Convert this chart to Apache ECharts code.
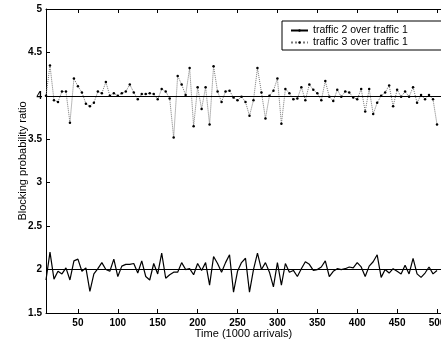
<!DOCTYPE html>
<html>
<head>
<meta charset="utf-8">
<script src="https://cdn.jsdelivr.net/npm/echarts@6/dist/echarts.min.js"></script>
<style>html,body{margin:0;padding:0;background:#fff;}#c{width:441px;height:341px;}</style>
</head>
<body>
<div id="c"></div>
<script>
var time = [10,15,20,25,30,35,40,45,50,55,
  60,65,70,75,80,85,90,95,100,105,
  110,115,120,125,130,135,140,145,150,155,
  160,165,170,175,180,185,190,195,200,205,
  210,215,220,225,230,235,240,245,250,255,
  260,265,270,275,280,285,290,295,300,305,
  310,315,320,325,330,335,340,345,350,355,
  360,365,370,375,380,385,390,395,400,405,
  410,415,420,425,430,435,440,445,450,455,
  460,465,470,475,480,485,490,495,500];
var traffic2 = [1.88,2.2,1.89,1.98,1.95,2.02,1.88,2.1,2.12,1.98,
  2.02,1.75,1.95,2.01,2.08,2.0,1.98,2.12,1.92,2.04,
  2.06,2.06,2.07,1.96,2.1,1.92,1.88,2.07,1.95,2.19,
  1.9,1.94,1.97,1.97,2.08,2.0,2.01,1.94,2.07,1.99,
  2.08,1.82,2.15,2.07,1.97,2.08,2.17,1.74,1.98,2.08,
  2.13,1.74,2.0,2.19,2.0,2.08,1.97,1.8,2.08,1.82,
  2.07,1.97,1.99,1.92,2.01,2.09,2.06,1.99,2.0,2.03,
  2.1,1.92,1.98,2.01,2.0,2.01,2.03,2.02,2.08,2.03,
  1.92,2.04,2.09,2.17,1.91,2.0,1.96,2.01,1.98,1.95,
  2.05,1.95,2.13,1.95,1.91,1.96,2.03,1.95,1.99];
var traffic3 = [4.0,4.35,3.95,3.93,4.05,4.05,3.69,4.2,4.11,4.04,
  3.91,3.88,3.92,4.05,4.03,4.16,4.0,4.03,4.0,4.03,
  4.05,4.13,4.04,3.96,4.02,4.02,4.03,4.02,3.96,4.08,
  4.05,3.97,3.52,4.23,4.13,4.01,4.32,3.65,4.1,3.85,
  4.1,3.67,4.34,4.05,3.93,4.05,4.06,3.98,3.95,3.99,
  3.93,3.77,3.95,4.32,4.04,3.74,4.0,4.06,4.2,3.68,
  4.08,4.03,3.96,3.97,4.1,3.95,4.13,4.07,4.03,3.95,
  4.17,3.99,3.94,4.07,3.99,4.05,4.04,3.98,3.96,4.08,
  3.82,4.08,3.79,3.92,4.0,4.04,4.12,3.88,4.07,3.99,
  4.05,3.99,4.1,3.92,4.01,3.96,4.01,3.96,3.67];
var xTicks = [50,100,150,200,250,300,350,400,450,500];
var refLevels = [2,4];
var seriesNames = ['traffic 2 over traffic 1','traffic 3 over traffic 1'];
var xTitle = 'Time (1000 arrivals)';
var yTitle = 'Blocking probability ratio';

function pairs(ys){ return time.map(function(t,i){ return [t, ys[i]]; }); }

var FONT = '"Liberation Sans", Arial, sans-serif';
var chart = echarts.init(document.getElementById('c'), null, {renderer:'canvas'});
chart.setOption({
  animation: false,
  backgroundColor: '#fff',
  grid: {left: 46, right: 0, top: 9, bottom: 28, outerBoundsMode: 'none', containLabel: false},
  legend: {
    left: 282, top: 21, orient: 'vertical',
    backgroundColor: '#fff', borderColor: '#000', borderWidth: 1,
    padding: [4, 40, 2, 8], itemGap: 1, itemWidth: 17, itemHeight: 3,
    textStyle: {fontFamily: FONT, fontSize: 10.5, color: '#000', lineHeight: 10},
    data: seriesNames
  },
  xAxis: [{
    type: 'value', min: 10, max: 505, position: 'bottom',
    name: xTitle, nameLocation: 'middle', nameGap: 15, nameMoveOverlap: false,
    nameTextStyle: {fontFamily: FONT, fontSize: 11, color: '#000'},
    axisLine: {show: true, lineStyle: {color: '#000', width: 1}},
    axisTick: {inside: true, length: 4, customValues: xTicks, lineStyle: {color: '#000'}},
    axisLabel: {customValues: xTicks, margin: 5, fontFamily: FONT, fontSize: 10, fontWeight: 'bold', color: '#000', hideOverlap: false},
    splitLine: {show: false}
  },{
    type: 'value', min: 10, max: 505, position: 'top',
    axisLine: {show: true, lineStyle: {color: '#000', width: 1}},
    axisTick: {inside: true, length: 4, customValues: xTicks, lineStyle: {color: '#000'}},
    axisLabel: {show: false},
    splitLine: {show: false}
  }],
  yAxis: {
    type: 'value', min: 1.5, max: 5, interval: 0.5,
    name: yTitle, nameLocation: 'middle', nameGap: 18, nameMoveOverlap: false,
    nameTextStyle: {fontFamily: FONT, fontSize: 11, color: '#000'},
    axisLine: {show: true, lineStyle: {color: '#000', width: 1}},
    axisTick: {inside: true, length: 4, lineStyle: {color: '#000'}},
    axisLabel: {margin: 4, fontFamily: FONT, fontSize: 10, fontWeight: 'bold', color: '#000'},
    splitLine: {show: false}
  },
  series: [{
    name: seriesNames[0], type: 'line', data: pairs(traffic2),
    symbol: 'none', color: '#000',
    lineStyle: {color: '#000', width: 1.2},
    markLine: {
      silent: true, symbol: 'none', label: {show: false},
      lineStyle: {color: '#000', width: 1, type: 'solid'},
      data: refLevels.map(function(v){ return {yAxis: v}; })
    }
  },{
    name: seriesNames[1], type: 'line', data: pairs(traffic3),
    symbol: 'circle', symbolSize: 2.5, showSymbol: true, color: '#000',
    itemStyle: {color: '#000'},
    lineStyle: {color: '#777', width: 1, type: 'dotted'}
  }]
});
</script>
</body>
</html>
